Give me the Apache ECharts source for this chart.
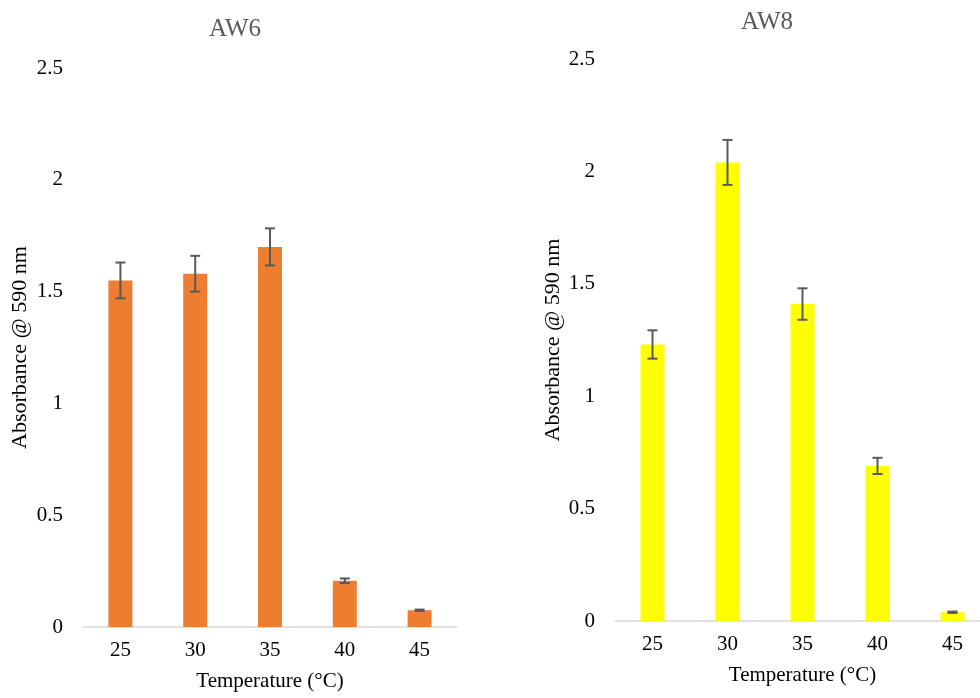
<!DOCTYPE html>
<html>
<head>
<meta charset="utf-8">
<script src="https://cdn.jsdelivr.net/npm/echarts@6/dist/echarts.min.js"></script>
<style>
html,body{margin:0;padding:0;background:#fff;overflow:hidden;width:980px;height:698px;}
#main{width:1000px;height:698px;}
</style>
</head>
<body>
<div id="main"></div>
<script>
var categories = ['25', '30', '35', '40', '45'];
var aw6Values = [1.55, 1.58, 1.70, 0.207, 0.075];
var aw6Errors = [0.08, 0.08, 0.083, 0.01, 0.003];
var aw8Values = [1.23, 2.04, 1.41, 0.69, 0.039];
var aw8Errors = [0.063, 0.10, 0.07, 0.036, 0.003];
var yTicks = { min: 0, max: 2.5, interval: 0.5 };
var titles = ['AW6', 'AW8'];
var yName = 'Absorbance @ 590 nm';
var xName = 'Temperature (\u00B0C)';

var FONT = '"Liberation Serif", "Times New Roman", serif';
var chart = echarts.init(document.getElementById('main'), null, { renderer: 'canvas' });

function errData(vals, errs) {
  return vals.map(function (v, i) { return [i, v, errs[i]]; });
}

function renderErr(params, api) {
  var x = api.value(0), v = api.value(1), e = api.value(2);
  var top = api.coord([x, v + e]);
  var bot = api.coord([x, v - e]);
  var hw = 5;
  var style = { stroke: '#595959', lineWidth: 2 };
  return {
    type: 'group',
    children: [
      { type: 'line', shape: { x1: top[0], y1: top[1], x2: bot[0], y2: bot[1] }, style: style },
      { type: 'line', shape: { x1: top[0] - hw, y1: top[1], x2: top[0] + hw, y2: top[1] }, style: style },
      { type: 'line', shape: { x1: bot[0] - hw, y1: bot[1], x2: bot[0] + hw, y2: bot[1] }, style: style }
    ]
  };
}

function xAxisCfg(gi) {
  return {
    type: 'category', gridIndex: gi, data: categories,
    axisTick: { show: false },
    axisLine: { lineStyle: { color: '#d9d9d9', width: 1.5 } },
    axisLabel: { color: '#000', fontFamily: FONT, fontSize: 21, margin: 13 },
    name: xName, nameLocation: 'middle', nameGap: 44,
    nameTextStyle: { color: '#000', fontFamily: FONT, fontSize: 21 }
  };
}
function yAxisCfg(gi, gap) {
  return {
    type: 'value', gridIndex: gi, min: yTicks.min, max: yTicks.max, interval: yTicks.interval,
    splitLine: { show: false }, axisLine: { show: false }, axisTick: { show: false },
    axisLabel: { color: '#000', fontFamily: FONT, fontSize: 21, margin: 20 },
    name: yName, nameLocation: 'middle', nameGap: gap, nameRotate: 90,
    nameTextStyle: { color: '#000', fontFamily: FONT, fontSize: 22 }
  };
}

var option = {
  backgroundColor: '#fff',
  animation: false,
  title: [
    { text: titles[0], left: 230, top: 12, textAlign: 'center',
      textStyle: { color: '#595959', fontFamily: FONT, fontSize: 25, fontWeight: 'normal' } },
    { text: titles[1], left: 762, top: 5, textAlign: 'center',
      textStyle: { color: '#595959', fontFamily: FONT, fontSize: 25, fontWeight: 'normal' } }
  ],
  grid: [
    { left: 83, top: 68, width: 374, height: 559 },
    { left: 615, top: 59, width: 375, height: 562 }
  ],
  xAxis: [xAxisCfg(0), xAxisCfg(1)],
  yAxis: [yAxisCfg(0, 52), yAxisCfg(1, 51)],
  series: [
    { type: 'bar', xAxisIndex: 0, yAxisIndex: 0, data: aw6Values, barWidth: 24,
      itemStyle: { color: '#ED7D31' } },
    { type: 'custom', xAxisIndex: 0, yAxisIndex: 0, data: errData(aw6Values, aw6Errors),
      renderItem: renderErr, encode: { x: 0, y: 1 }, z: 10 },
    { type: 'bar', xAxisIndex: 1, yAxisIndex: 1, data: aw8Values, barWidth: 24,
      itemStyle: { color: '#FFFF00' } },
    { type: 'custom', xAxisIndex: 1, yAxisIndex: 1, data: errData(aw8Values, aw8Errors),
      renderItem: renderErr, encode: { x: 0, y: 1 }, z: 10 }
  ]
};
chart.setOption(option);
</script>
</body>
</html>
